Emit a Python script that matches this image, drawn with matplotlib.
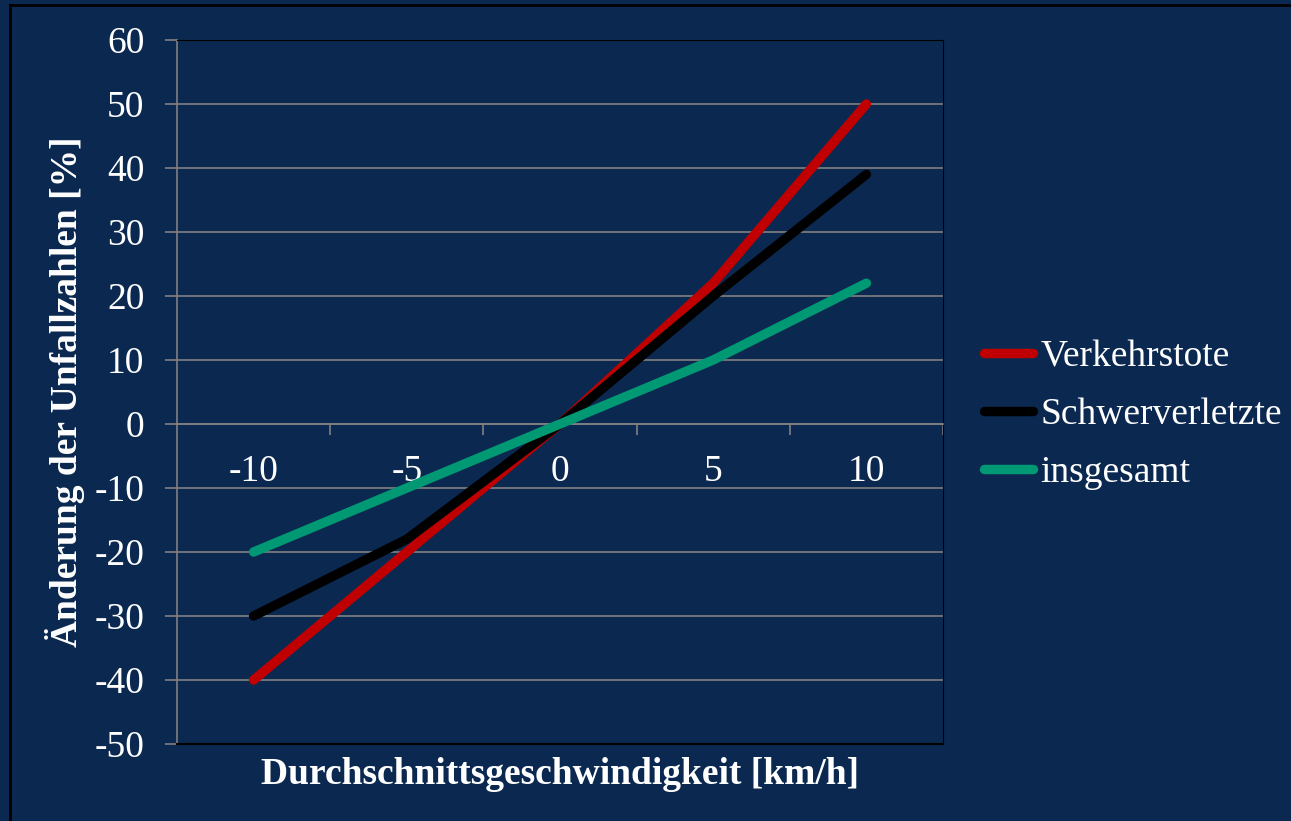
import matplotlib.pyplot as plt
from matplotlib.lines import Line2D
import numpy as np

speed = ["-10", "-5", "0", "5", "10"]
verkehrstote = [-40, -20, 0, 22, 50]
schwerverletzte = [-30, -18, 0, 20, 39]
insgesamt = [-20, -10, 0, 10, 22]

bg = "#0b2950"
grey = "#808080"
plt.rcParams["font.family"] = ["Liberation Serif", "DejaVu Serif"]
plt.rcParams["axes.unicode_minus"] = False

fig = plt.figure(figsize=(12.91, 8.21), dpi=100, facecolor=bg)
ax = fig.add_axes([177 / 1291, 1 - 744 / 821, 766 / 1291, 704 / 821])
ax.set_facecolor(bg)

x = np.arange(len(speed))
ax.plot(x, verkehrstote, color="#c00000", lw=6.8, solid_capstyle="round", label="Verkehrstote", zorder=3)
ax.plot(x, schwerverletzte, color="black", lw=6.8, solid_capstyle="round", label="Schwerverletzte", zorder=4)
ax.plot(x, insgesamt, color="#009973", lw=6.8, solid_capstyle="round", label="insgesamt", zorder=5)

ax.set_xlim(-0.5, len(speed) - 0.5)
ax.set_ylim(-50, 60)
ax.set_yticks(np.arange(-50, 61, 10))
ax.grid(axis="y", color=grey, lw=1.2)
ax.set_axisbelow(True)

# category axis crossing at zero
ax.spines["bottom"].set_position(("data", 0))
ax.spines["bottom"].set_color(grey)
ax.spines["bottom"].set_linewidth(1.2)
ax.spines["left"].set_color(grey)
ax.spines["left"].set_linewidth(1.2)
ax.spines["top"].set_color("black")
ax.spines["right"].set_color("black")
ax.axhline(-50, color="black", lw=1.5, clip_on=False, zorder=6)

ax.set_xticks(x)
ax.set_xticklabels(speed)
ax.set_xticks(np.arange(0.5, len(speed), 1), minor=True)
ax.tick_params(axis="x", which="major", length=0, pad=22, labelsize=27, labelcolor="white")
ax.tick_params(axis="x", which="minor", length=8, direction="out", color=grey, width=1.2)
ax.tick_params(axis="y", length=8.5, direction="out", color=grey, width=1.2, labelsize=27,
               labelcolor="white", pad=15)

ax.set_ylabel("Änderung der Unfallzahlen [%]", fontsize=27, fontweight="bold", color="white")
ax.yaxis.set_label_coords(-0.12, 0.5)
ax.set_xlabel("Durchschnittsgeschwindigkeit [km/h]", fontsize=27, fontweight="bold", color="white")
ax.xaxis.set_label_coords(0.5, -0.018)

leg = fig.legend(loc="center left", bbox_to_anchor=(984 / 1291, 1 - 415 / 821), frameon=False,
                 fontsize=27, labelcolor="white", handlelength=1.3, handletextpad=0.2,
                 labelspacing=0.62, borderpad=0, borderaxespad=0)

# outer border of the chart area
fig.add_artist(Line2D([10 / 1291, 1], [1 - 5 / 821, 1 - 5 / 821], color="black", lw=2, transform=fig.transFigure))
fig.add_artist(Line2D([10 / 1291, 10 / 1291], [0, 1 - 5 / 821], color="black", lw=2, transform=fig.transFigure))

fig.savefig("out.png", dpi=100, facecolor=bg)
